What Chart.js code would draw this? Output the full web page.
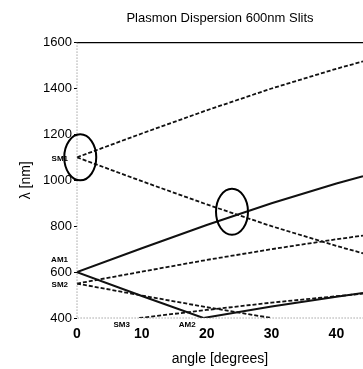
<!DOCTYPE html>
<html>
<head>
<meta charset="utf-8">
<script src="https://cdn.jsdelivr.net/npm/chart.js@4.4.1/dist/chart.umd.min.js"></script>
<style>
  html, body { margin: 0; padding: 0; background: #fff; overflow: hidden; }
  #wrap { width: 363px; height: 369px; }
</style>
</head>
<body>
<div id="wrap"><canvas id="chart"></canvas></div>
<script>
// values (angle in degrees, lambda in nm)
const angles = [0, 10, 20, 30, 40, 44.1];
const sm1Up = [1100, 1204, 1305, 1400, 1486, 1518];
const sm1Down = [1100, 996, 895, 800, 714, 682];
const am1Up = [600, 704, 805, 900, 986, 1018];
const sm2Up = [550, 602, 653, 700, 743, 759];

const am1DownAngles = [0, 10, 19.5];
const am1Down = [600, 496, 400];
const am2Angles = [19.5, 30, 40, 44.1];
const am2 = [400, 450, 493, 509];
const sm2DownAngles = [0, 10, 20, 30];
const sm2Down = [550, 498, 447, 400];
const sm3Angles = [9.6, 20, 30, 40, 44.1];
const sm3Up = [400, 435, 467, 495, 506];

const yTicks = [400, 600, 800, 1000, 1200, 1400, 1600];
const xTicks = [0, 10, 20, 30, 40];

// mode labels and the points they sit next to
const modeLabels = ['SM1', 'AM1', 'SM2', 'SM3', 'AM2'];
const modeAngles = [0, 0, 0, 6.9, 17];
const modeLambdas = [1100, 600, 550, 400, 400];

// circled crossings
const ringAngles = [0.5, 23.9];
const ringLambdas = [1100, 863];

function pts(xs, ys) {
  return xs.map((x, i) => ({x: x, y: ys[i]}));
}

function line(data, dashed) {
  return {
    data: data,
    borderColor: '#111',
    borderWidth: dashed ? 1.8 : 2,
    borderDash: dashed ? [4, 2] : [],
    pointRadius: 0,
    fill: false,
    tension: 0,
  };
}

const extras = {
  id: 'extras',
  afterDatasetsDraw(chart) {
    const ctx = chart.ctx;
    const a = chart.chartArea;
    const xs = chart.scales.x;
    const ys = chart.scales.y;
    ctx.save();

    // frame
    ctx.strokeStyle = '#000';
    ctx.lineWidth = 1.2;
    ctx.beginPath();
    ctx.moveTo(a.left, a.top);
    ctx.lineTo(a.right, a.top);
    ctx.stroke();
    ctx.strokeStyle = '#777';
    ctx.lineWidth = 1;
    ctx.setLineDash([1, 2]);
    ctx.beginPath();
    ctx.moveTo(a.left, a.top);
    ctx.lineTo(a.left, a.bottom);
    ctx.lineTo(a.right, a.bottom);
    ctx.stroke();
    ctx.setLineDash([]);

    // rings
    ctx.strokeStyle = '#000';
    ctx.lineWidth = 2;
    ringAngles.forEach((ang, i) => {
      ctx.beginPath();
      ctx.ellipse(xs.getPixelForValue(ang), ys.getPixelForValue(ringLambdas[i]), 16, 23, 0, 0, Math.PI * 2);
      ctx.stroke();
    });

    // mode labels
    ctx.fillStyle = '#000';
    ctx.font = 'bold 8px "Liberation Sans", Arial, sans-serif';
    ctx.textBaseline = 'middle';
    modeLabels.forEach((t, i) => {
      const px = xs.getPixelForValue(modeAngles[i]);
      const py = ys.getPixelForValue(modeLambdas[i]);
      if (modeAngles[i] === 0) {
        ctx.textAlign = 'right';
        const dy = t === 'AM1' ? -12 : 1;
        ctx.fillText(t, px - 9, py + dy);
      } else {
        ctx.textAlign = 'center';
        ctx.fillText(t, px, py + 7);
      }
    });
    ctx.restore();
  }
};

new Chart(document.getElementById('chart'), {
  type: 'line',
  data: {
    datasets: [
      line(pts(angles, sm1Up), true),
      line(pts(angles, sm1Down), true),
      line(pts(angles, am1Up), false),
      line(pts(angles, sm2Up), true),
      line(pts(am1DownAngles, am1Down), false),
      line(pts(am2Angles, am2), false),
      line(pts(sm2DownAngles, sm2Down), true),
      line(pts(sm3Angles, sm3Up), true),
    ]
  },
  options: {
    responsive: true,
    maintainAspectRatio: false,
    animation: false,
    layout: { padding: 0 },
    plugins: {
      legend: { display: false },
      tooltip: { enabled: false },
      title: {
        display: true,
        text: 'Plasmon Dispersion 600nm Slits',
        fullSize: false,
        color: '#000',
        font: { family: '"Liberation Sans", Arial, sans-serif', size: 13, weight: 'normal' },
        padding: { top: 11, bottom: 16 },
      },
    },
    scales: {
      x: {
        type: 'linear',
        min: 0,
        max: 44.1,
        afterFit: s => { s.height = 51; },
        grid: { display: true, drawOnChartArea: false, drawTicks: false },
        border: { display: false },
        afterBuildTicks: s => { s.ticks = xTicks.map(v => ({value: v})); },
        ticks: {
          color: '#000',
          padding: 8,
          callback: v => String(v),
          font: { family: '"Liberation Sans", Arial, sans-serif', size: 14, weight: 'bold' },
        },
        title: {
          display: true,
          text: 'angle [degrees]',
          color: '#000',
          font: { family: '"Liberation Sans", Arial, sans-serif', size: 14 },
          padding: { top: 0, bottom: 1 },
        },
      },
      y: {
        type: 'linear',
        min: 400,
        max: 1600,
        afterFit: s => { s.width = 77; },
        grid: { display: true, drawOnChartArea: false, tickLength: 3, color: '#000' },
        border: { display: false },
        afterBuildTicks: s => { s.ticks = yTicks.map(v => ({value: v})); },
        ticks: {
          color: '#000',
          padding: 2,
          callback: v => String(v),
          font: { family: '"Liberation Sans", Arial, sans-serif', size: 13 },
        },
        title: {
          display: true,
          text: 'λ [nm]',
          color: '#000',
          font: { family: '"Liberation Sans", Arial, sans-serif', size: 14 },
          padding: { top: 18, bottom: 0 },
        },
      },
    },
  },
  plugins: [extras],
});
</script>
</body>
</html>
